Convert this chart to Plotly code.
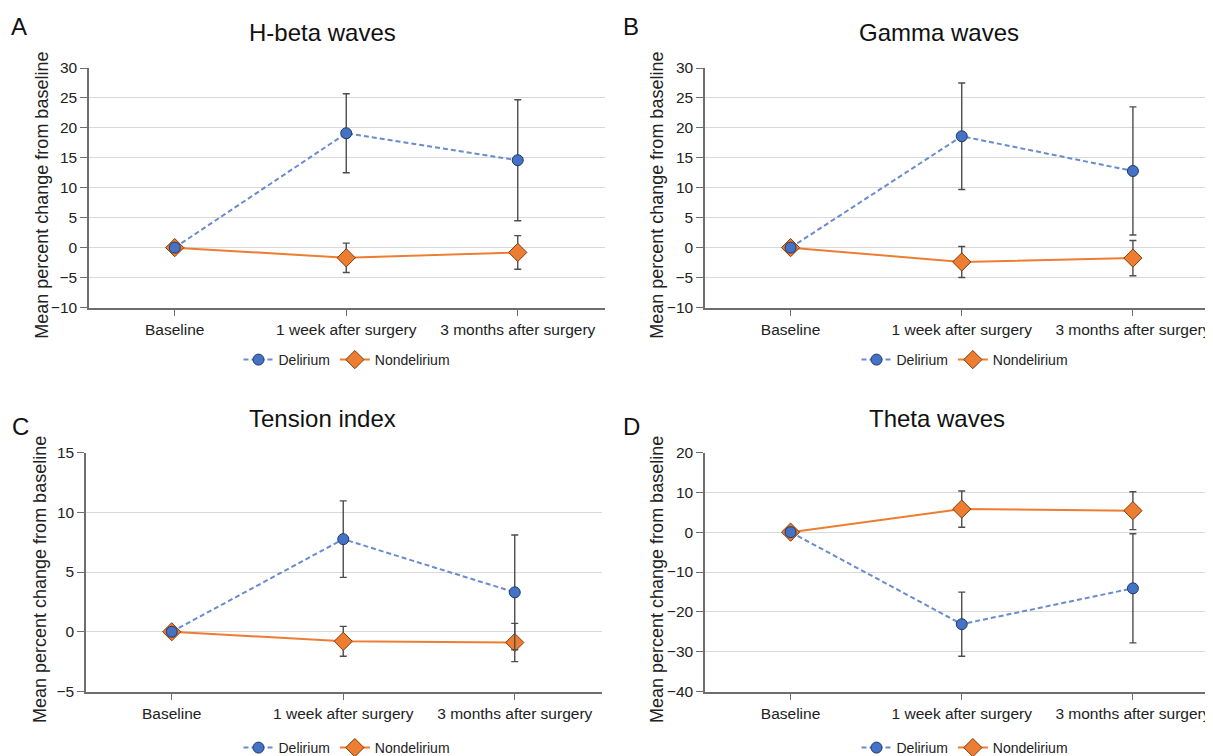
import plotly.graph_objects as go

# ---------------- data ----------------
categories = ["Baseline", "1 week after surgery", "3 months after surgery"]
panel_titles = ["H-beta waves", "Gamma waves", "Tension index", "Theta waves"]
panel_letters = ["A", "B", "C", "D"]
series_names = ["Delirium", "Nondelirium"]
y_title = "Mean percent change from baseline"

hbeta_delirium = [0, 19.1, 14.6]
hbeta_delirium_err = [0, 6.6, 10.1]
hbeta_nondelirium = [0, -1.7, -0.8]
hbeta_nondelirium_err = [0, 2.45, 2.8]

gamma_delirium = [0, 18.6, 12.8]
gamma_delirium_err = [0, 8.9, 10.7]
gamma_nondelirium = [0, -2.4, -1.75]
gamma_nondelirium_err = [0, 2.6, 2.95]

tension_delirium = [0, 7.75, 3.3]
tension_delirium_err = [0, 3.2, 4.8]
tension_nondelirium = [0, -0.8, -0.9]
tension_nondelirium_err = [0, 1.25, 1.6]

theta_delirium = [0, -23.1, -14.1]
theta_delirium_err = [0, 8.05, 13.7]
theta_nondelirium = [0, 5.8, 5.4]
theta_nondelirium_err = [0, 4.55, 4.75]

y_ranges = [[-10, 30], [-10, 30], [-5, 15], [-40, 20]]
y_dticks = [5, 5, 5, 10]

panels = [
    (hbeta_delirium, hbeta_delirium_err, hbeta_nondelirium, hbeta_nondelirium_err),
    (gamma_delirium, gamma_delirium_err, gamma_nondelirium, gamma_nondelirium_err),
    (tension_delirium, tension_delirium_err, tension_nondelirium, tension_nondelirium_err),
    (theta_delirium, theta_delirium_err, theta_nondelirium, theta_nondelirium_err),
]

# ---------------- layout geometry (screen pixels) ----------------
SCREEN_W, SCREEN_H = 1213, 756
OFF = 8                      # page body margin
W, H = SCREEN_W - OFF, SCREEN_H - OFF


def fx(px):
    return (px - OFF) / W


def fy(py):
    return 1 - (py - OFF) / H


FONT = "Liberation Sans, Arial, sans-serif"
# (axis_left_px, plot_right_px, top_px, bottom_px)
geom = [
    (89, 605, 68, 307.5),
    (705, 1214, 68, 307.5),
    (86, 602, 452.5, 691.5),
    (705, 1214, 452.5, 691.5),
]
band_px = 171.5
title_pos = [(322, 32), (939, 32), (322, 418), (937, 418)]
letter_pos = [(19, 27), (631, 27), (20, 426), (631, 426)]
ytitle_x = [42, 657, 40, 657]
legend_pos = [(347, 360), (965, 360), (347, 748), (965, 748)]

DEL_FILL = "#4472C4"
DEL_EDGE = "#203864"
DEL_LINE = "#6A8BCE"
NON_FILL = "#ED7D31"
NON_EDGE = "#7F3A0E"
NON_LINE = "#ED7D31"
ERR = "#4D4D4D"
AXIS = "#6E6E6E"
GRID = "#D9D9D9"
TXT = "#222222"

fig = go.Figure()
annotations = []

for i, (d, de, n, ne) in enumerate(panels):
    k = "" if i == 0 else str(i + 1)
    xa, ya = "x" + k, "y" + k
    leg = "legend" + k
    # nondelirium first so delirium markers sit on top
    fig.add_trace(go.Scatter(
        x=categories, y=n, xaxis=xa, yaxis=ya, name=series_names[1], legend=leg,
        legendrank=2, mode="lines+markers",
        line=dict(color=NON_LINE, width=2),
        marker=dict(symbol="diamond", size=14, color=NON_FILL,
                    line=dict(color=NON_EDGE, width=1)),
        error_y=dict(type="data", array=ne, visible=True, color=ERR,
                     thickness=1.4, width=3.5),
    ))
    fig.add_trace(go.Scatter(
        x=categories, y=d, xaxis=xa, yaxis=ya, name=series_names[0], legend=leg,
        legendrank=1, mode="lines+markers",
        line=dict(color=DEL_LINE, width=2, dash="5px,3px"),
        marker=dict(symbol="circle", size=11, color=DEL_FILL,
                    line=dict(color=DEL_EDGE, width=1)),
        error_y=dict(type="data", array=de, visible=True, color=ERR,
                     thickness=1.4, width=3.5),
    ))

    left, right, top, bottom = geom[i]
    n_bands = (right - left) / band_px
    xaxis = dict(
        domain=[fx(left), min(1, fx(right))], anchor=ya, type="category",
        categoryorder="array", categoryarray=categories,
        range=[-0.5, -0.5 + n_bands],
        showline=True, linecolor=AXIS, linewidth=1.5,
        ticks="outside", ticklen=7, tickcolor=AXIS, tickwidth=1.3,
        showgrid=False, zeroline=False,
        tickfont=dict(family=FONT, size=15.5, color=TXT),
        fixedrange=True,
    )
    yaxis = dict(
        domain=[fy(bottom), fy(top)], anchor=xa,
        range=y_ranges[i], dtick=y_dticks[i], tick0=0,
        showline=True, linecolor=AXIS, linewidth=1.5,
        ticks="outside", ticklen=7, tickcolor=AXIS, tickwidth=1.3,
        showgrid=True, gridcolor=GRID, gridwidth=1.3, zeroline=False,
        tickfont=dict(family=FONT, size=15.5, color=TXT),
        fixedrange=True,
    )
    fig.update_layout({"xaxis" + k: xaxis, "yaxis" + k: yaxis})

    lx, ly = legend_pos[i]
    fig.update_layout({leg: dict(
        x=fx(lx), y=fy(ly), xref="paper", yref="paper",
        xanchor="center", yanchor="middle", orientation="h",
        font=dict(family=FONT, size=14, color=TXT),
        bgcolor="rgba(0,0,0,0)", itemwidth=30, tracegroupgap=0,
        itemclick=False, itemdoubleclick=False,
    )})

    tx, ty = title_pos[i]
    annotations.append(dict(
        text=panel_titles[i], x=fx(tx), y=fy(ty), xref="paper", yref="paper",
        xanchor="center", yanchor="middle", showarrow=False,
        font=dict(family=FONT, size=24, color="#111111"),
    ))
    px_, py_ = letter_pos[i]
    annotations.append(dict(
        text=panel_letters[i], x=fx(px_), y=fy(py_), xref="paper", yref="paper",
        xanchor="center", yanchor="middle", showarrow=False,
        font=dict(family=FONT, size=24, color="#111111"),
    ))
    annotations.append(dict(
        text=y_title, textangle=-90,
        x=fx(ytitle_x[i]), y=fy((top + bottom) / 2 + 8),
        xref="paper", yref="paper", xanchor="center", yanchor="middle",
        showarrow=False, font=dict(family=FONT, size=18, color=TXT),
    ))

fig.update_layout(
    width=W, height=H,
    margin=dict(l=0, r=0, t=0, b=0, autoexpand=False),
    paper_bgcolor="white", plot_bgcolor="white",
    annotations=annotations,
    showlegend=True,
    font=dict(family=FONT, color=TXT),
)

fig.write_html("out.html", config={"displayModeBar": False})
